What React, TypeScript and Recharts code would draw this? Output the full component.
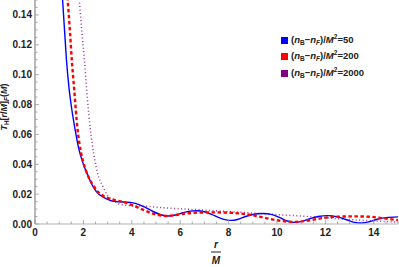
import React from 'react';
import { LineChart, Line, XAxis, YAxis, Legend } from 'recharts';

// (r/M, T_H) samples
const blueData = [
  { r: 1.1, t: 0.16 }, { r: 1.14, t: 0.15 }, { r: 1.22, t: 0.13 }, { r: 1.3, t: 0.11 },
  { r: 1.4, t: 0.092 }, { r: 1.5, t: 0.079 }, { r: 1.66, t: 0.063 }, { r: 1.8, t: 0.051 },
  { r: 2.0, t: 0.04 }, { r: 2.2, t: 0.032 }, { r: 2.4, t: 0.025 }, { r: 2.6, t: 0.0205 },
  { r: 2.8, t: 0.0182 }, { r: 3.0, t: 0.0165 }, { r: 3.2, t: 0.0153 }, { r: 3.5, t: 0.0148 },
  { r: 3.8, t: 0.0146 }, { r: 4.0, t: 0.0143 }, { r: 4.3, t: 0.013 }, { r: 4.6, t: 0.0108 },
  { r: 4.9, t: 0.0082 }, { r: 5.2, t: 0.0062 }, { r: 5.5, t: 0.0054 }, { r: 5.8, t: 0.006 },
  { r: 6.1, t: 0.0075 }, { r: 6.4, t: 0.0086 }, { r: 6.7, t: 0.0089 }, { r: 7.0, t: 0.0082 },
  { r: 7.3, t: 0.0065 }, { r: 7.6, t: 0.0043 }, { r: 7.9, t: 0.0028 }, { r: 8.1, t: 0.0024 },
  { r: 8.4, t: 0.0032 }, { r: 8.7, t: 0.005 }, { r: 9.0, t: 0.0064 }, { r: 9.4, t: 0.007 },
  { r: 9.8, t: 0.0063 }, { r: 10.1, t: 0.0044 }, { r: 10.4, t: 0.0022 }, { r: 10.7, t: 0.0011 },
  { r: 11.0, t: 0.0016 }, { r: 11.3, t: 0.0032 }, { r: 11.7, t: 0.005 }, { r: 12.1, t: 0.0056 },
  { r: 12.5, t: 0.0048 }, { r: 12.9, t: 0.0027 }, { r: 13.2, t: 0.0011 }, { r: 13.5, t: 0.0007 },
  { r: 13.8, t: 0.0014 }, { r: 14.1, t: 0.003 }, { r: 14.5, t: 0.0043 }, { r: 15.0, t: 0.0048 },
];

const redData = [
  { r: 1.3, t: 0.16 }, { r: 1.35, t: 0.15 }, { r: 1.44, t: 0.13 }, { r: 1.52, t: 0.11 },
  { r: 1.62, t: 0.09 }, { r: 1.76, t: 0.063 }, { r: 1.9, t: 0.048 }, { r: 2.0, t: 0.041 },
  { r: 2.2, t: 0.032 }, { r: 2.4, t: 0.026 }, { r: 2.6, t: 0.0215 }, { r: 2.8, t: 0.019 },
  { r: 3.0, t: 0.0175 }, { r: 3.3, t: 0.016 }, { r: 3.6, t: 0.015 }, { r: 4.0, t: 0.0127 },
  { r: 4.4, t: 0.01 }, { r: 4.8, t: 0.0073 }, { r: 5.1, t: 0.006 }, { r: 5.45, t: 0.0054 },
  { r: 5.8, t: 0.006 }, { r: 6.2, t: 0.007 }, { r: 6.7, t: 0.0076 }, { r: 7.2, t: 0.0078 },
  { r: 7.7, t: 0.0077 }, { r: 8.2, t: 0.0074 }, { r: 8.7, t: 0.0066 }, { r: 9.2, t: 0.0052 },
  { r: 9.7, t: 0.0034 }, { r: 10.2, t: 0.002 }, { r: 10.7, t: 0.0014 }, { r: 11.2, t: 0.0021 },
  { r: 11.7, t: 0.0035 }, { r: 12.2, t: 0.0046 }, { r: 12.7, t: 0.005 }, { r: 13.2, t: 0.0051 },
  { r: 13.8, t: 0.0049 }, { r: 14.4, t: 0.0038 }, { r: 15.0, t: 0.0026 },
];

const purpleData = [
  { r: 1.78, t: 0.16 }, { r: 1.83, t: 0.15 }, { r: 1.93, t: 0.13 }, { r: 2.04, t: 0.11 },
  { r: 2.16, t: 0.085 }, { r: 2.29, t: 0.063 }, { r: 2.45, t: 0.045 }, { r: 2.6, t: 0.033 },
  { r: 2.78, t: 0.026 }, { r: 3.0, t: 0.019 }, { r: 3.3, t: 0.015 }, { r: 3.6, t: 0.0128 },
  { r: 4.0, t: 0.0122 }, { r: 4.5, t: 0.012 }, { r: 5.0, t: 0.0113 }, { r: 5.5, t: 0.0107 },
  { r: 6.0, t: 0.0102 }, { r: 6.8, t: 0.0095 }, { r: 7.5, t: 0.0088 }, { r: 8.5, t: 0.0078 },
  { r: 9.5, t: 0.0068 }, { r: 10.5, t: 0.0058 }, { r: 11.5, t: 0.0048 }, { r: 12.5, t: 0.0035 },
  { r: 13.5, t: 0.0025 }, { r: 14.3, t: 0.0018 }, { r: 15.0, t: 0.0013 },
];

const seriesLabels = ['50', '200', '2000'];
const seriesColors = ['#0000ff', '#ff0000', '#800080'];

const xMajor = [0, 2, 4, 6, 8, 10, 12, 14];
const xTicks = [0, 0.5, 1, 1.5, 2, 2.5, 3, 3.5, 4, 4.5, 5, 5.5, 6, 6.5, 7, 7.5, 8, 8.5, 9, 9.5,
  10, 10.5, 11, 11.5, 12, 12.5, 13, 13.5, 14, 14.5, 15];
const yMajor = [0, 0.02, 0.04, 0.06, 0.08, 0.1, 0.12, 0.14];
const yTicks = [0, 0.005, 0.01, 0.015, 0.02, 0.025, 0.03, 0.035, 0.04, 0.045, 0.05, 0.055, 0.06,
  0.065, 0.07, 0.075, 0.08, 0.085, 0.09, 0.095, 0.1, 0.105, 0.11, 0.115, 0.12, 0.125, 0.13,
  0.135, 0.14, 0.145, 0.15];

const FRAME = '#b0b0b0';
const TICK = '#999999';
const labelFont = { fontFamily: 'Liberation Sans, Arial, sans-serif', fontWeight: 700 };

const isMajor = (list: number[], v: number) => list.some((m) => Math.abs(m - v) < 1e-9);

const BottomTick = (props: any) => {
  const { x, y, payload } = props;
  const major = isMajor(xMajor, payload.value);
  return (
    <g>
      <line x1={x} x2={x} y1={y} y2={y - (major ? 4 : 2.5)} stroke={TICK} strokeWidth={0.8} />
      {major && (
        <text x={x} y={y + 12} textAnchor="middle" fontSize={10} fill="#222" {...labelFont}>
          {payload.value}
        </text>
      )}
    </g>
  );
};

const TopTick = (props: any) => {
  const { x, y, payload } = props;
  const major = isMajor(xMajor, payload.value);
  return <line x1={x} x2={x} y1={y} y2={y + (major ? 4 : 2.5)} stroke={TICK} strokeWidth={0.8} />;
};

const LeftTick = (props: any) => {
  const { x, y, payload } = props;
  const major = isMajor(yMajor, payload.value);
  return (
    <g>
      <line x1={x} x2={x + (major ? 4 : 2.5)} y1={y} y2={y} stroke={TICK} strokeWidth={0.8} />
      {major && (
        <text x={x - 3} y={y + 3.5} textAnchor="end" fontSize={10} fill="#222" {...labelFont}>
          {payload.value.toFixed(2)}
        </text>
      )}
    </g>
  );
};

const RightTick = (props: any) => {
  const { x, y, payload } = props;
  const major = isMajor(yMajor, payload.value);
  return <line x1={x} x2={x - (major ? 4 : 2.5)} y1={y} y2={y} stroke={TICK} strokeWidth={0.8} />;
};

const XTitle = () => (
  <g {...labelFont} fill="#222">
    <text x={216} y={248} textAnchor="middle" fontSize={10} fontStyle="italic">r</text>
    <line x1={211} x2={221} y1={252} y2={252} stroke="#222" strokeWidth={1} />
    <text x={216} y={264} textAnchor="middle" fontSize={10} fontStyle="italic">M</text>
  </g>
);

const YTitle = () => (
  <text transform="translate(7,107) rotate(-90)" textAnchor="middle" fontSize={9} fill="#222" {...labelFont}>
    <tspan fontStyle="italic">T</tspan>
    <tspan fontSize={6.5} dy={2}>H</tspan>
    <tspan dy={-2}>[</tspan>
    <tspan fontStyle="italic">r</tspan>
    <tspan>/</tspan>
    <tspan fontStyle="italic">M</tspan>
    <tspan>]</tspan>
    <tspan fontSize={6.5} fontStyle="italic" dy={2}>F</tspan>
    <tspan dy={-2}>(</tspan>
    <tspan fontStyle="italic">M</tspan>
    <tspan>)</tspan>
  </text>
);

const subStyle: React.CSSProperties = { fontSize: 6.5, verticalAlign: 'baseline', position: 'relative', top: 2 };
const supStyle: React.CSSProperties = { fontSize: 6.5, verticalAlign: 'baseline', position: 'relative', top: -4 };

const LegendBox = () => (
  <div style={{ ...labelFont, fontSize: 9.5, color: '#222' }}>
    {seriesLabels.map((lab, i) => (
      <div key={lab} style={{ display: 'flex', alignItems: 'center', whiteSpace: 'nowrap', height: 16.5 }}>
        <span style={{ width: 7, height: 7, background: seriesColors[i], marginRight: 3, display: 'inline-block' }} />
        <span style={{ lineHeight: '10px' }}>
          (<i>n</i><span style={subStyle}>B</span>−<i>n</i><span style={subStyle}><i>F</i></span>)/<i>M</i>
          <span style={supStyle}>2</span>={lab}
        </span>
      </div>
    ))}
  </div>
);

export default function App() {
  return (
    <div style={{ position: 'absolute', left: 0, top: 0, width: 399, height: 267, background: '#fff' }}>
      <LineChart width={399} height={267} margin={{ top: 0, right: 1, bottom: 0, left: 0 }}>
        <XAxis
          xAxisId={0}
          type="number"
          dataKey="r"
          domain={[0, 15]}
          ticks={xTicks}
          interval={0}
          height={43}
          tickSize={0}
          tickMargin={0}
          tickLine={false}
          axisLine={{ stroke: FRAME, strokeWidth: 1.2 }}
          tick={<BottomTick />}
          label={{ content: () => <XTitle /> }}
        />
        <XAxis
          xAxisId="top"
          orientation="top"
          type="number"
          dataKey="r"
          domain={[0, 15]}
          ticks={xTicks}
          interval={0}
          height={0}
          tickSize={0}
          tickMargin={0}
          tickLine={false}
          axisLine={{ stroke: FRAME, strokeWidth: 1.2 }}
          tick={<TopTick />}
        />
        <YAxis
          yAxisId={0}
          type="number"
          domain={[0, 0.15]}
          allowDataOverflow
          ticks={yTicks}
          interval={0}
          width={35}
          tickSize={0}
          tickMargin={0}
          tickLine={false}
          axisLine={{ stroke: FRAME, strokeWidth: 1.8 }}
          tick={<LeftTick />}
          label={{ content: () => <YTitle /> }}
        />
        <YAxis
          yAxisId="right"
          orientation="right"
          type="number"
          domain={[0, 0.15]}
          ticks={yTicks}
          interval={0}
          width={0}
          tickSize={0}
          tickMargin={0}
          tickLine={false}
          axisLine={{ stroke: FRAME, strokeWidth: 1.2 }}
          tick={<RightTick />}
        />
        <Legend
          layout="vertical"
          align="center"
          verticalAlign="middle"
          content={() => <LegendBox />}
          wrapperStyle={{ left: 281, top: 32, width: 118 }}
        />
        <Line
          data={purpleData}
          dataKey="t"
          name={seriesLabels[2]}
          type="monotone"
          stroke={seriesColors[2]}
          strokeOpacity={0.8}
          strokeWidth={1.5}
          strokeDasharray="1 2.5"
          dot={false}
          isAnimationActive={false}
        />
        <Line
          data={blueData}
          dataKey="t"
          name={seriesLabels[0]}
          type="monotone"
          stroke={seriesColors[0]}
          strokeWidth={1.4}
          dot={false}
          isAnimationActive={false}
        />
        <Line
          data={redData}
          dataKey="t"
          name={seriesLabels[1]}
          type="monotone"
          stroke={seriesColors[1]}
          strokeWidth={2.4}
          strokeDasharray="3.5 2.5"
          dot={false}
          isAnimationActive={false}
        />
      </LineChart>
    </div>
  );
}
